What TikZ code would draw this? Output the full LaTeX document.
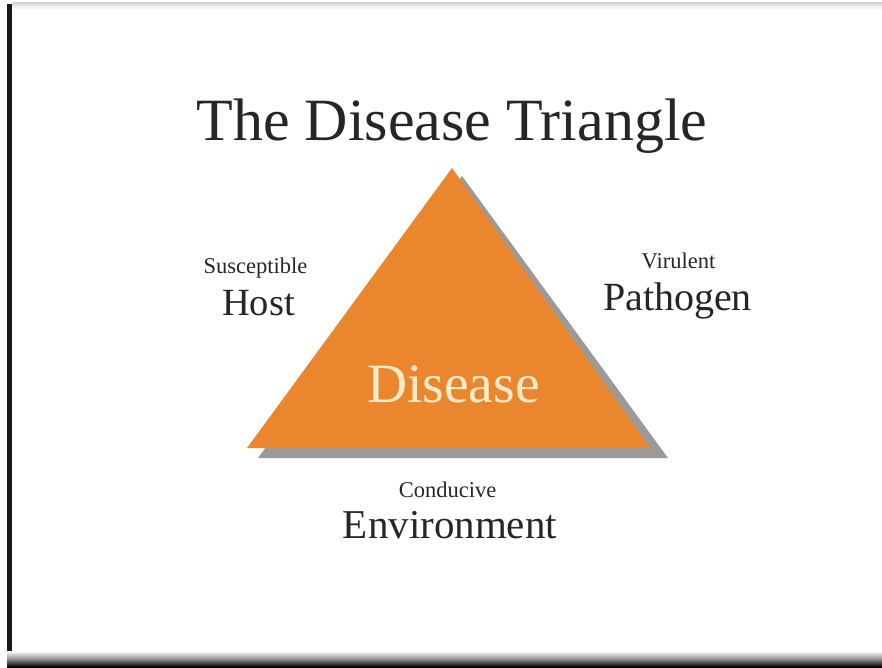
\documentclass[tikz,border=0pt]{standalone}
\usepackage{fontspec}
\setmainfont{Liberation Serif}
\definecolor{txt}{HTML}{262626}
\definecolor{tri}{HTML}{E9862E}
\definecolor{trishadow}{HTML}{9C9A98}
\definecolor{cream}{HTML}{FCEBC6}
\begin{document}
\begin{tikzpicture}[x=1pt,y=-1pt,
  lbl/.style={inner sep=0pt,anchor=base,text=txt},
  small/.style={lbl,font=\fontsize{22.5}{26}\selectfont},
  big/.style={lbl,font=\fontsize{39}{46}\selectfont}]
\useasboundingbox (0,0) rectangle (882,667);
\fill[white] (0,0) rectangle (882,667);
% top light band
\shade[top color=black!18,bottom color=white] (12,2) rectangle (882,9);
% left border
\fill[black!90] (7,4) rectangle (12,667);
% bottom shadow band
\shade[top color=white,bottom color=black!55] (7,651) rectangle (882,661);
\shade[top color=black!60,bottom color=black] (7,661) rectangle (882,667);
% triangle shadow and triangle
\coordinate (sl) at (258,458);
\coordinate (st) at (462,176);
\coordinate (sr) at (668,458);
\coordinate (tl) at (247,448);
\coordinate (tt) at (452,168);
\coordinate (tr) at (650,448);
\fill[trishadow] (sl) -- (st) -- (sr) -- cycle;
\fill[tri] (tl) -- (tt) -- (tr) -- cycle;
% texts
\node[lbl,font=\fontsize{60}{72}\selectfont] (title) at (452,140) {The Disease Triangle};
\node[lbl,text=cream,font=\fontsize{55.5}{64}\selectfont] (disease) at (453.5,402) {Disease};
\node[small] (susc) at (255.5,273) {Susceptible};
\node[big,font=\fontsize{38.5}{46}\selectfont] (host) at (258.5,315) {Host};
\node[small] (vir) at (678.5,268) {Virulent};
\node[big,font=\fontsize{40}{46}\selectfont] (path) at (677.5,310) {Pathogen};
\node[small] (cond) at (447.5,497) {Conducive};
\node[big,font=\fontsize{41}{46}\selectfont] (env) at (450,538) {Environment};
\end{tikzpicture}
\end{document}
